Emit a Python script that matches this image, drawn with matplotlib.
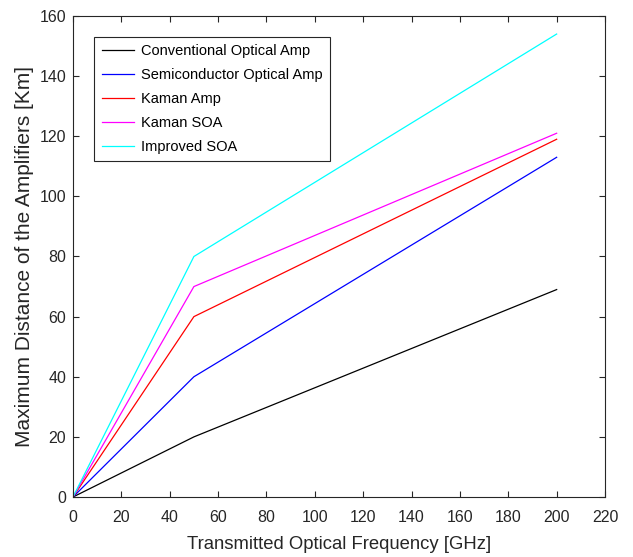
import matplotlib.pyplot as plt

plt.rcParams['font.family'] = ['Liberation Sans', 'DejaVu Sans']

# x positions (GHz)
freq = [0, 50, 200]

# max distance (Km) for each amplifier
conv_amp = [0, 20, 69]
semi_amp = [0, 40, 113]
kaman_amp = [0, 60, 119]
kaman_soa = [0, 70, 121]
improved_soa = [0, 80, 154]

names = ['Conventional Optical Amp', 'Semiconductor Optical Amp',
         'Kaman Amp', 'Kaman SOA', 'Improved SOA']
colors = ['black', 'blue', 'red', 'magenta', 'cyan']

fig = plt.figure(figsize=(6.33, 5.57), dpi=100)
ax = fig.add_axes([0.1153, 0.1077, 0.8405, 0.8636])

series = [conv_amp, semi_amp, kaman_amp, kaman_soa, improved_soa]
for y, c, n in zip(series, colors, names):
    ax.plot(freq, y, color=c, lw=0.9, label=n)

ax.set_xlim(0, 220)
ax.set_ylim(0, 160)
ax.set_xticks(range(0, 221, 20))
ax.set_yticks(range(0, 161, 20))
ax.tick_params(direction='in', top=True, right=True, labelsize=11.5, length=4,
               colors='#262626')
ax.tick_params(axis='x', pad=9)
ax.tick_params(axis='y', pad=5)
for s in ax.spines.values():
    s.set_color('#262626')
    s.set_linewidth(0.8)

ax.set_xlabel('Transmitted Optical Frequency [GHz]', fontsize=13.3, color='#262626',
              labelpad=8)
ax.set_ylabel('Maximum Distance of the Amplifiers [Km]', fontsize=15, color='#262626',
              labelpad=4)

leg = ax.legend(loc='upper left', bbox_to_anchor=(0.04, 0.956), borderaxespad=0,
                fontsize=10.5, fancybox=False, framealpha=1, edgecolor='#262626',
                handlelength=2.2, handletextpad=0.5, labelspacing=0.68,
                borderpad=0.5)
leg.get_frame().set_linewidth(0.8)

fig.savefig('out.png', dpi=100)
